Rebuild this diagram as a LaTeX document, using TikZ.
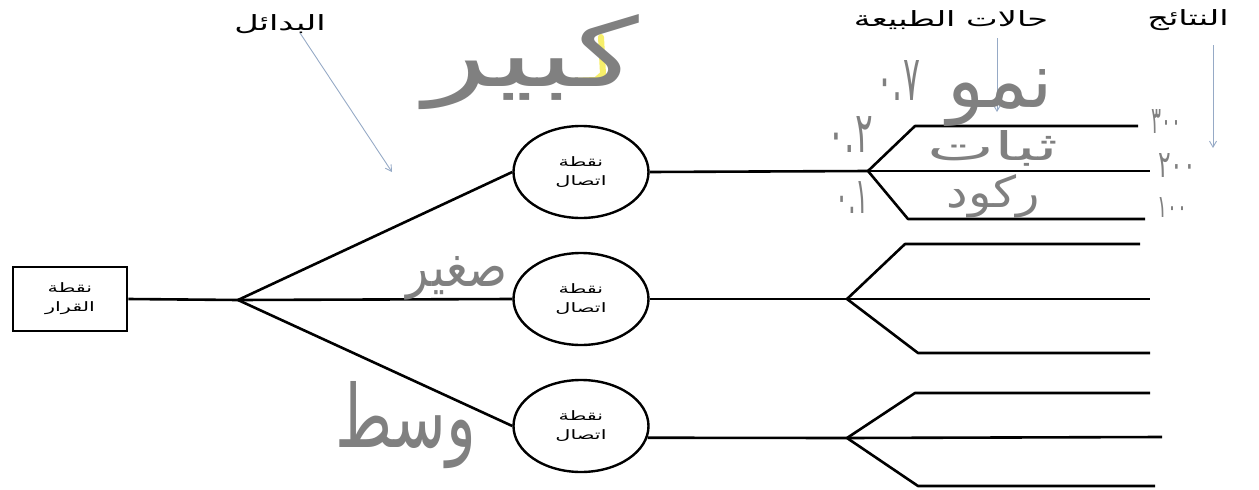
\documentclass[tikz,border=0pt]{standalone}
\usepackage{fontspec}
\usepackage{graphicx}
\TeXXeTstate=1
\newfontfamily\arabicfont[Script=Arabic]{DejaVu Sans}
\newfontfamily\arabicwide[Script=Arabic,FakeStretch=1.6]{DejaVu Sans}
\usetikzlibrary{arrows.meta,shapes.geometric}
\definecolor{handcol}{RGB}{128,128,128}
\definecolor{ptrcol}{RGB}{150,170,198}
\definecolor{hilite}{RGB}{246,236,80}
\begin{document}
\begin{tikzpicture}[x=1pt,y=-1pt,
  treeline/.style={line width=2.6pt, draw=black},
  chance/.style={ellipse, draw, line width=2.4pt, minimum width=135pt, minimum height=92pt, inner sep=0pt, align=center, font=\arabicwide\fontsize{13}{19}\selectfont},
  decbox/.style={rectangle, draw, line width=2.6pt, minimum width=114pt, minimum height=64pt, inner sep=0pt, align=center, font=\arabicwide\fontsize{13}{19}\selectfont},
  header/.style={inner sep=0pt, font=\arabicwide\fontsize{21}{24}\selectfont},
  ptr/.style={draw=ptrcol, line width=0.9pt, -{Straight Barb[length=6pt,width=7pt]}},
  hw/.style={inner sep=0pt, text=handcol, font=\arabicfont}
]
\useasboundingbox (0,0) rectangle (1259,490);

% highlight stroke
\draw[hilite, line width=6pt, line cap=round, line join=round, opacity=0.85] (601,37) -- (603,74) -- (596,80) -- (570,81);

% decision node and chance nodes
\node[decbox] (dec) at (70,299) {\beginR نقطة\endR\\\beginR القرار\endR};
\node[chance] (c1) at (581,172) {\beginR نقطة\endR\\\beginR اتصال\endR};
\node[chance] (c2) at (581,299) {\beginR نقطة\endR\\\beginR اتصال\endR};
\node[chance] (c3) at (581,426) {\beginR نقطة\endR\\\beginR اتصال\endR};

% branch points
\coordinate (b0) at (238,300);
\coordinate (b1) at (868,171);
\coordinate (b2) at (847,299);
\coordinate (b3) at (847,438);

% outcome corners and ends
\coordinate (o11) at (915,126); \coordinate (e11) at (1138,126);
\coordinate (e12) at (1150,171);
\coordinate (o13) at (908,219); \coordinate (e13) at (1145,219);
\coordinate (o21) at (905,244); \coordinate (e21) at (1140,244);
\coordinate (e22) at (1150,299);
\coordinate (o23) at (918,353); \coordinate (e23) at (1150,353);
\coordinate (o31) at (915,393); \coordinate (e31) at (1150,393);
\coordinate (e32) at (1162,437);
\coordinate (o33) at (918,486); \coordinate (e33) at (1155,486);

\draw[treeline] (dec.east) -- (b0);
\draw[treeline] (b0) -- (c1.west);
\draw[treeline] (b0) -- (c2.west);
\draw[treeline] (b0) -- (c3.west);
\draw[treeline] (c1.east) -- (b1);
\draw[treeline] (c2.east) -- (b2);
\draw[treeline] (c3.-10) -- (b3);

\draw[treeline, line join=round] (b1) -- (o11) -- (e11);
\draw[treeline] (b1) -- (e12);
\draw[treeline, line join=round] (b1) -- (o13) -- (e13);
\draw[treeline, line join=round] (b2) -- (o21) -- (e21);
\draw[treeline] (b2) -- (e22);
\draw[treeline, line join=round] (b2) -- (o23) -- (e23);
\draw[treeline, line join=round] (b3) -- (o31) -- (e31);
\draw[treeline] (b3) -- (e32);
\draw[treeline, line join=round] (b3) -- (o33) -- (e33);

% headers and pointers
\node[header] (h1) at (280,24) {\beginR البدائل\endR};
\node[header] (h2) at (951,20) {\beginR حالات الطبيعة\endR};
\node[header] (h3) at (1188,20) {\beginR النتائج\endR};
\coordinate (p1a) at (300,33); \coordinate (p1b) at (392,172);
\coordinate (p2a) at (997,38); \coordinate (p2b) at (997,112);
\coordinate (p3a) at (1213,45); \coordinate (p3b) at (1213,148);
\draw[ptr] (p1a) -- (p1b);
\draw[ptr] (p2a) -- (p2b);
\draw[ptr] (p3a) -- (p3b);

% handwritten annotations
\node[hw] (kabir) at (532,62) {\resizebox{215pt}{72pt}{\beginR كبير\endR}};
\node[hw] (saghir) at (457,278) {\resizebox{100pt}{30pt}{\beginR صغير\endR}};
\node[hw] (wasat) at (406,425) {\resizebox{140pt}{66pt}{\beginR وسط\endR}};
\node[hw] (numuw) at (1000,98) {\resizebox{105pt}{38pt}{\beginR نمو\endR}};
\node[hw] (thabat) at (993,148) {\resizebox{130pt}{30pt}{\beginR ثبات\endR}};
\node[hw] (rukud) at (993,196) {\resizebox{93pt}{33pt}{\beginR ركود\endR}};
\node[hw] (v300) at (1166,121) {\resizebox{30pt}{24pt}{٣٠٠}};
\node[hw] (v200) at (1177,165) {\resizebox{38pt}{24pt}{٢٠٠}};
\node[hw] (v100) at (1172,207) {\resizebox{30pt}{20pt}{١٠٠}};
\node[hw] (p07) at (898,80) {\resizebox{44pt}{40pt}{٠.٧}};
\node[hw] (p02) at (850,134) {\resizebox{46pt}{36pt}{٠.٢}};
\node[hw] (p01) at (852,197) {\resizebox{34pt}{32pt}{٠.١}};
\end{tikzpicture}
\end{document}
